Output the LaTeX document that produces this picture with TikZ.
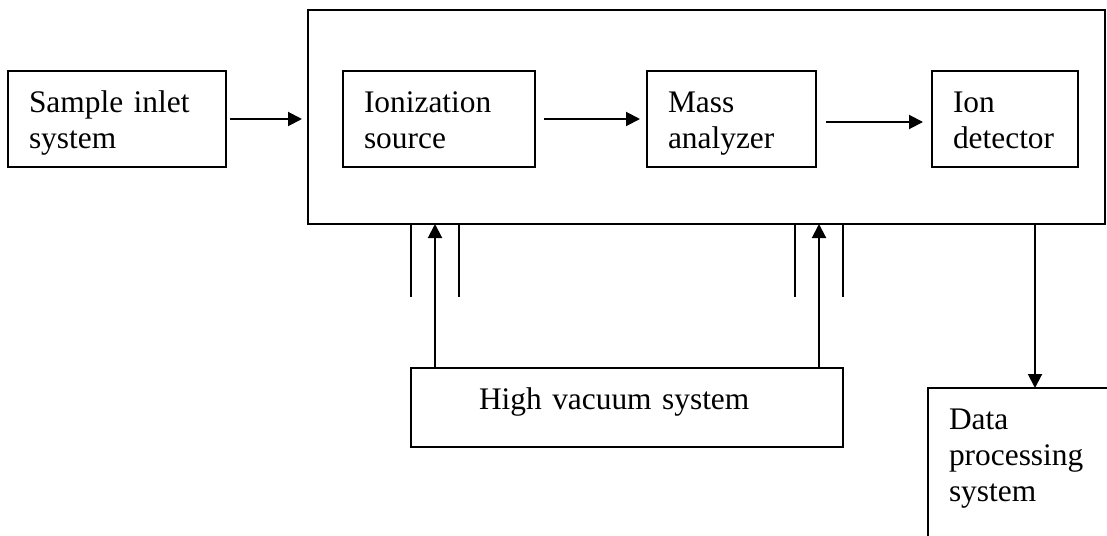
\documentclass[tikz,border=0pt]{standalone}
\usepackage{fontspec}
\setmainfont{Liberation Serif}
\usetikzlibrary{arrows.meta}

\begin{document}
\begin{tikzpicture}[x=1pt,y=-1pt]

\tikzset{
  unit box/.style={
    draw, line width=2pt,
    anchor=north west,
    outer sep=0pt,
    inner xsep=21pt,
    inner ysep=15.8pt,
    text height=25.2pt,
    align=left,
    font=\fontsize{31.4pt}{36pt}\selectfont,
  },
  flow/.style={line width=2pt, -{Triangle[length=14pt,width=14pt]}},
  pipe/.style={line width=2pt},
}

\useasboundingbox (0,0) rectangle (1107,535);
\clip (0,0) rectangle (1107,535);

% Vacuum chamber
\node[draw, line width=2pt, anchor=north west, outer sep=0pt, inner sep=0pt,
      minimum width=797pt, minimum height=214pt] (chamber) at (308,10) {};

% Units inside and outside the chamber
\node[unit box, text width=176pt, text depth=39.2pt] (sample) at (8,71)   {Sample inlet\\system};
\node[unit box, text width=150pt, text depth=39.2pt] (ion)    at (343,71) {Ionization\\source};
\node[unit box, text width=127pt, text depth=39.2pt] (mass)   at (647,71) {Mass\\analyzer};
\node[unit box, text width=104pt, text depth=39.2pt] (det)    at (932,71) {Ion\\detector};

\node[unit box, inner xsep=68pt, text width=296pt, text depth=22.2pt] (vacuum) at (411,368) {High vacuum system};
\node[unit box, text width=180pt, text depth=130pt] (data) at (928,388) {Data\\processing\\system};

% Ports on the chamber wall
\coordinate (port1) at (435,224);
\coordinate (port2) at (819,224);
\coordinate (tap)   at (1035,224);

% Ion path
\draw[flow, shorten <=4pt, shorten >=6pt] (sample.east) -- (sample.east -| chamber.west);
\draw[flow, shorten <=9pt, shorten >=7pt] (ion) -- (mass);
\draw[flow, shorten <=10pt, shorten >=9pt] ([yshift=-3pt]mass.east) -- ([yshift=-3pt]det.west);

% Pumping lines
\draw[pipe] (port1) ++(-24,0) -- ++(0,73);
\draw[pipe] (port1) ++(24,0) -- ++(0,73);
\draw[flow] (port1 |- vacuum.north) -- (port1);

\draw[pipe] (port2) ++(-24,0) -- ++(0,73);
\draw[pipe] (port2) ++(24,0) -- ++(0,73);
\draw[flow] (port2 |- vacuum.north) -- (port2);

% Signal out
\draw[flow] (tap) -- (tap |- data.north);

\end{tikzpicture}
\end{document}
